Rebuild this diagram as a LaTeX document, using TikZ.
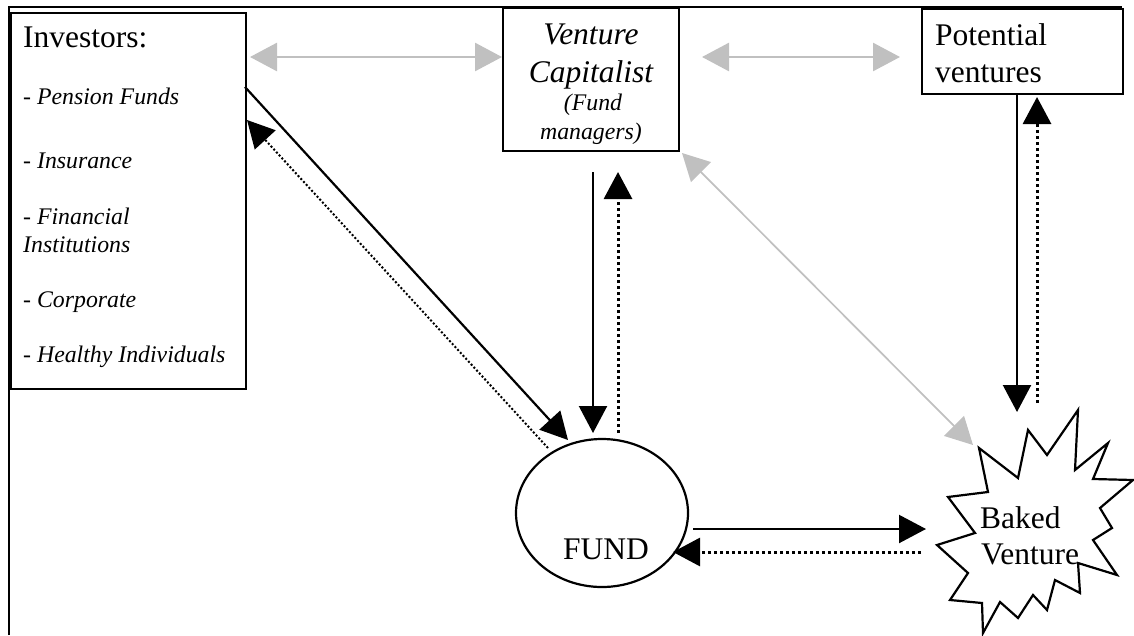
\documentclass[tikz,border=0pt]{standalone}
\usepackage{fontspec}
\setmainfont{Liberation Serif}
\usetikzlibrary{arrows.meta,shapes.geometric}
\definecolor{lgray}{HTML}{C0C0C0}
\tikzset{
  big/.style={font=\fontsize{31.5}{37}\selectfont, inner sep=0pt},
  bigit/.style={font=\fontsize{31.5}{37}\selectfont\itshape, inner sep=0pt},
  smit/.style={font=\fontsize{23.8}{29}\selectfont\itshape, inner sep=0pt},
  boxline/.style={draw=black, line width=2.2pt, inner sep=0pt},
  solidarr/.style={line width=2.2pt, -{Triangle[length=27pt,width=28pt]}},
  dotarr/.style={line width=3pt, dash pattern=on 3pt off 3pt, -{Triangle[length=27pt,width=28pt]}},
  thindot/.style={line width=2pt, dash pattern=on 2pt off 2pt, -{Triangle[length=27pt,width=28pt]}},
  grayarr/.style={draw=lgray, line width=2.7pt, {Triangle[length=27pt,width=28pt]}-{Triangle[length=27pt,width=28pt]}},
  graythin/.style={draw=lgray, line width=1.7pt, {Triangle[length=27pt,width=28pt]}-{Triangle[length=27pt,width=28pt]}},
}
\begin{document}
\begin{tikzpicture}[x=1pt,y=-1pt]
\useasboundingbox (0,0) rectangle (1134,635);
% frame
\draw[line width=2.2pt] (9,635) -- (9,7) -- (1122,7);

% boxes
\node[boxline, anchor=north west, minimum width=235pt, minimum height=376pt] (inv) at (10,12) {};
\node[boxline, anchor=north west, minimum width=176pt, minimum height=143pt] (vc) at (502,7) {};
\node[boxline, anchor=north west, minimum width=201pt, minimum height=85pt] (pv) at (921,8) {};
\node[draw, ellipse, line width=2.2pt, minimum width=172pt, minimum height=148pt] (fund) at (602,513) {};
\draw[line width=2.2pt, fill=white] (979,448) -- (1018,478) -- (1028,430) -- (1047,455) -- (1078,410)
  -- (1075,470) -- (1108,443) -- (1093,479) -- (1133,480) -- (1100,508) -- (1112,528)
  -- (1093,540) -- (1117,575) -- (1078,563) -- (1080,593) -- (1055,580) -- (1047,610)
  -- (1033,595) -- (1018,618) -- (1000,602) -- (983,633) -- (982,603) -- (950,600)
  -- (968,573) -- (937,545) -- (975,533) -- (948,497) -- (988,492) -- cycle;

% texts
\node[big, anchor=base west] (invt) at (23,47) {Investors:};
\node[smit, anchor=base west] (i1) at (23,104) {- Pension Funds};
\node[smit, anchor=base west] (i2) at (23,168) {- Insurance};
\node[smit, anchor=base west] (i3) at (23,224) {- Financial};
\node[smit, anchor=base west] (i3b) at (23,252) {Institutions};
\node[smit, anchor=base west] (i4) at (23,307) {- Corporate};
\node[smit, anchor=base west] (i5) at (23,362) {- Healthy Individuals};

\node[bigit, anchor=base] (vc1) at (591,44) {Venture};
\node[bigit, anchor=base] (vc2) at (591,82) {Capitalist};
\node[smit, anchor=base] (vc3) at (593,110) {(Fund};
\node[smit, anchor=base] (vc4) at (591,139) {managers)};

\node[big, anchor=base west] (pv1) at (935,45) {Potential};
\node[big, anchor=base west] (pv2) at (935,82) {ventures};

\node[big, anchor=base] (fundt) at (606,559) {FUND};

\node[big, anchor=base west] (bv1) at (980,528) {Baked};
\node[big, anchor=base west] (bv2) at (981,564) {Venture};

% connector end points
\coordinate (a1) at (250,57);   \coordinate (a2) at (502,57);
\coordinate (b1) at (702,57);   \coordinate (b2) at (900,57);
\coordinate (c1) at (682,153);  \coordinate (c2) at (973,445);
\coordinate (d1) at (245,87);   \coordinate (d2) at (568,440);
\coordinate (e1) at (548,448);  \coordinate (e2) at (247,120);
\coordinate (f1) at (593,172);  \coordinate (f2) at (593,433);
\coordinate (g1) at (618,433);  \coordinate (g2) at (618,172);
\coordinate (h1) at (693,529);  \coordinate (h2) at (926,529);
\coordinate (k1) at (921,552);  \coordinate (k2) at (673,552);
\coordinate (m1) at (1017,95);  \coordinate (m2) at (1017,412);
\coordinate (n1) at (1037,403); \coordinate (n2) at (1037,97);

% connectors
\draw[grayarr] (a1) -- (a2);
\draw[grayarr] (b1) -- (b2);
\draw[graythin] (c1) -- (c2);
\draw[solidarr] (d1) -- (d2);
\draw[thindot] (e1) -- (e2);
\draw[solidarr] (f1) -- (f2);
\draw[dotarr] (g1) -- (g2);
\draw[solidarr] (h1) -- (h2);
\draw[dotarr] (k1) -- (k2);
\draw[solidarr] (m1) -- (m2);
\draw[dotarr] (n1) -- (n2);
\end{tikzpicture}
\end{document}
